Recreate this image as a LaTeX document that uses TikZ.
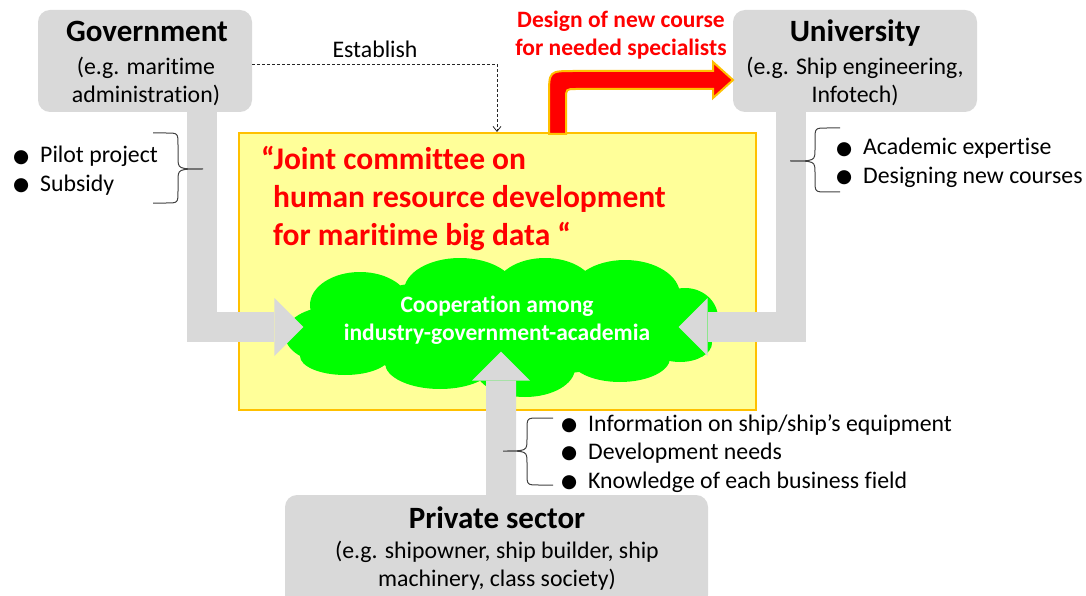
\documentclass[tikz,border=0pt]{standalone}
\usepackage{fontspec}
\setmainfont{Carlito}[Ligatures=CommonOff]
\newfontfamily\dejavu{DejaVu Sans}
\usetikzlibrary{shapes.symbols,arrows.meta,calc}
\definecolor{boxgray}{HTML}{D9D9D9}
\definecolor{lightyel}{HTML}{FFFF99}
\definecolor{goldline}{HTML}{FFC000}
\definecolor{limegreen}{HTML}{00FF00}
\definecolor{pptred}{HTML}{FF0000}
\definecolor{bracegray}{HTML}{404040}
\newcommand\bigt{\fontsize{31}{37}\selectfont\bfseries}
\newcommand\jct{\fontsize{31.5}{38}\selectfont\bfseries}
\newcommand\regt{\fontsize{23.8}{28}\selectfont}
\newcommand\boldt{\fontsize{23.5}{28}\selectfont\bfseries}
\newcommand\itm[1]{\makebox[27pt][l]{\raisebox{0.5pt}{\dejavu\fontsize{18.5}{18}\selectfont ●}}#1}
\begin{document}
\begin{tikzpicture}[x=1pt,y=-1pt,
  graybox/.style={fill=boxgray, rounded corners=12pt, draw=none, inner sep=0},
  grayarrow/.style={draw=boxgray, line width=30pt, -{Triangle[width=58pt,length=29pt,line width=0pt]}},
  lbl/.style={anchor=base, inner sep=0},
  lblw/.style={anchor=base west, inner sep=0},
  bracestyle/.style={draw=bracegray, line width=1pt},
  estab/.style={draw=black!85, line width=0.8pt, dash pattern=on 3pt off 2pt, -{Straight Barb[length=5pt,width=8pt]}}
]
\useasboundingbox (0,0) rectangle (1086,596);

% gray boxes
\node[graybox, minimum width=214pt, minimum height=102pt] (gov) at (145,61) {};
\node[graybox, minimum width=244pt, minimum height=102pt] (univ) at (855,61) {};
\node[graybox, minimum width=423pt, minimum height=112pt] (priv) at (496.5,551) {};

% committee box
\node[draw=goldline, line width=2pt, fill=lightyel, minimum width=517pt, minimum height=277pt, inner sep=0] (jc) at (497.5,271.5) {};

% cloud (outline node for anchors, body drawn as puffs)
\node[cloud, cloud puffs=13, cloud puff arc=110, aspect=3, draw=none, minimum width=434pt, minimum height=142pt, inner sep=0] (coop) at (501,327) {};
\fill[limegreen]
  (500,327) ellipse [x radius=180pt, y radius=50pt]
  (360,305) ellipse [x radius=50pt, y radius=33pt]
  (460,291) ellipse [x radius=56pt, y radius=33pt]
  (545,290) ellipse [x radius=50pt, y radius=32pt]
  (625,295) ellipse [x radius=55pt, y radius=35pt]
  (685,318) ellipse [x radius=33pt, y radius=30pt]
  (330,335) ellipse [x radius=45pt, y radius=28pt]
  (345,356) ellipse [x radius=45pt, y radius=19pt]
  (440,363) ellipse [x radius=55pt, y radius=26pt]
  (525,368) ellipse [x radius=50pt, y radius=29pt]
  (620,358) ellipse [x radius=50pt, y radius=24pt]
  (680,343) ellipse [x radius=32pt, y radius=19pt];

% gray arrows
\coordinate (gx) at (202,0);
\coordinate (ux) at (790.5,0);
\coordinate (px) at (501,0);
\draw[grayarrow] (gov.south -| gx) |- ([xshift=20pt]coop.west);
\draw[grayarrow] (univ.south -| ux) |- ([xshift=-40pt]coop.east);
\draw[grayarrow] (priv.north -| px) -- ([yshift=21pt]coop.south);

% red arrow
\filldraw[fill=pptred, draw=goldline, line width=2pt] (549,134) -- (549,96) .. controls (549,71) .. (574,71) -- (713,71) -- (713,62) -- (733,80) -- (713,98) -- (713,89) -- (576,89) .. controls (566,89) .. (566,99) -- (566,134) -- cycle;

% establish
\coordinate (estx) at (497,0);
\draw[estab] ($(gov.east)+(0,3)$) -| (jc.north -| estx);
\node[lbl] (estlbl) at (375,58) {\regt Establish};

% braces
\draw[bracestyle] (153,133) -- (166,133) .. controls (178,133) .. (178,145) -- (178,157) .. controls (178,169) .. (203,169) .. controls (178,169) .. (178,181) -- (178,191) .. controls (178,203) .. (166,203) -- (153,203);
\draw[bracestyle] (840,128) -- (827,128) .. controls (815,128) .. (815,140) -- (815,149) .. controls (815,161) .. (790,161) .. controls (815,161) .. (815,173) -- (815,180) .. controls (815,192) .. (827,192) -- (840,192);
\draw[bracestyle] (553,418) -- (539,418) .. controls (527,418) .. (527,430) -- (527,439) .. controls (527,451) .. (503,451) .. controls (527,451) .. (527,463) -- (527,473) .. controls (527,485) .. (539,485) -- (553,485);

% box texts
\node[lbl] (govt) at (147,42) {\bigt Government};
\node[lbl] (gov2) at (146,75) {\regt (e.g. maritime};
\node[lbl] (gov3) at (146,103) {\regt administration)};
\node[lbl] (univt) at (855,42) {\bigt University};
\node[lbl] (univ2) at (855,75) {\regt (e.g. Ship engineering,};
\node[lbl] (univ3) at (855,103) {\regt Infotech)};
\node[lbl] (privt) at (497,528) {\bigt Private sector};
\node[lbl] (priv2) at (497,558) {\regt (e.g. shipowner, ship builder, ship};
\node[lbl] (priv3) at (497,586) {\regt machinery, class society)};

% red label
\node[lbl, text=pptred] (des1) at (621,28) {\boldt Design of new course};
\node[lbl, text=pptred] (des2) at (621,56) {\boldt for needed specialists};

% committee title
\node[lblw, text=pptred] (jt1) at (261,170) {\jct “Joint committee on};
\node[lblw, text=pptred] (jt2) at (273,207.5) {\jct human resource development};
\node[lblw, text=pptred] (jt3) at (273,245) {\jct for maritime big data “};

% cloud text
\node[lbl, text=white] (c1) at (497,312) {\boldt Cooperation among};
\node[lbl, text=white] (c2) at (497,340) {\boldt industry-government-academia};

% bullet items
\node[lblw] (gi1) at (13,163) {\regt\itm{Pilot project}};
\node[lblw] (gi2) at (13,191) {\regt\itm{Subsidy}};
\node[lblw] (ui1) at (836,155) {\regt\itm{Academic expertise}};
\node[lblw] (ui2) at (836,183) {\regt\itm{Designing new courses}};
\node[lblw] (pi1) at (561,431) {\regt\itm{Information on ship/ship’s equipment}};
\node[lblw] (pi2) at (561,459) {\regt\itm{Development needs}};
\node[lblw] (pi3) at (561,488) {\regt\itm{Knowledge of each business field}};
\end{tikzpicture}
\end{document}
